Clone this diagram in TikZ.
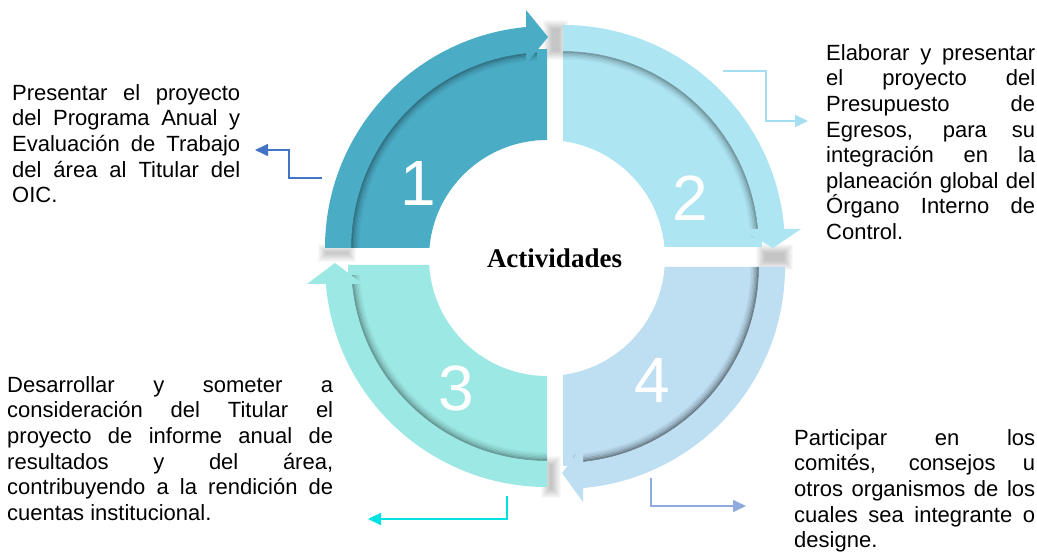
\documentclass[tikz,border=0pt]{standalone}
\usepackage{fontspec}
\setmainfont{Liberation Sans}
\newfontfamily\serifb{Liberation Serif}
\usetikzlibrary{arrows.meta,calc}
\definecolor{q1}{RGB}{75,172,198}
\definecolor{q2}{RGB}{174,229,243}
\definecolor{q3}{RGB}{156,232,228}
\definecolor{q4}{RGB}{190,222,242}
\definecolor{c1}{RGB}{68,114,196}
\definecolor{c2}{RGB}{165,222,240}
\definecolor{c3}{RGB}{0,226,226}
\definecolor{c4}{RGB}{143,170,220}
\tikzset{
  txt/.style={anchor=north west, inner sep=0pt, align=left, font=\fontsize{22}{25.6}\selectfont},
  num/.style={text=white, inner sep=0pt, font=\fontsize{64}{64}\selectfont},
  conn/.style={line width=1.6pt, -{Triangle[length=13pt,width=12pt]}},
  shad/.style={line width=1.6pt, black},
}
\newcommand\jline[2]{\makebox[#1][s]{#2}}
\newcommand\sshadow[4]{\foreach \ii in {0,1,...,9}{\fill[black,opacity=0.022] (#1+\ii,#2+\ii) rectangle (#3-\ii,#4-\ii);}}
\newcommand\arcshadow[4]{% centre, start, end, opacity scale
  \foreach \rr/\oo in {195.2/0.30,193.8/0.22,192.4/0.15,191/0.10,189.6/0.06,188.2/0.03}
    \draw[shad,opacity=\oo*#4] ($(#1)+(#2:\rr)$) arc[start angle=#2,end angle=#3,radius=\rr];}
\begin{document}
\begin{tikzpicture}[x=1pt,y=1pt]
\useasboundingbox (0,0) rectangle (1037,552);
\fill[white] (0,0) rectangle (1037,552);

% soft drop shadows
\sshadow{756}{282}{793}{308}
\sshadow{543}{492}{568}{532}
\sshadow{541}{54}{561}{96}
\sshadow{318}{290}{356}{308}

% common centre of the white hole
\coordinate (O) at (547,294);

% Quadrant 1
\coordinate (C1) at (547,304);
\fill[q1] ($(O)+(175.1:118)$) arc[start angle=175.1,end angle=90,radius=118] -- ($(C1)+(90:199)$) arc[start angle=90,end angle=180,radius=199] -- cycle;
\arcshadow{C1}{180}{93}{1}
\fill[q1] ($(C1)+(180:196)$) arc[start angle=180,end angle=95.5,radius=196] -- ($(C1)+(95.5:222)$) arc[start angle=95.5,end angle=180,radius=222] -- cycle;
\fill[q1] ($(C1)+(-21,184)$) -- ($(C1)+(-21,238)$) -- ($(C1)+(1,211)$) -- cycle;

% Quadrant 2
\coordinate (C2) at (563,305);
\fill[q2] ($(O)+(82.2:118)$) arc[start angle=82.2,end angle=5.35,radius=118] -- ($(C2)+(0:199)$) arc[start angle=0,end angle=90,radius=199] -- cycle;
\arcshadow{C2}{90}{3}{1}
\fill[q2] ($(C2)+(90:196)$) arc[start angle=90,end angle=4.7,radius=196] -- ($(C2)+(4.7:222)$) arc[start angle=4.7,end angle=90,radius=222] -- cycle;
\fill[q2] ($(C2)+(178,18)$) -- ($(C2)+(238,18)$) -- ($(C2)+(210,-1)$) -- cycle;

% Quadrant 3
\coordinate (C3) at (547,287);
\fill[q3] ($(O)+(183.4:118)$) arc[start angle=183.4,end angle=270,radius=118] -- ($(C3)+(270:199)$) arc[start angle=270,end angle=180,radius=199] -- cycle;
\arcshadow{C3}{270}{183}{1}
\fill[q3] ($(C3)+(270:196)$) arc[start angle=270,end angle=184.9,radius=196] -- ($(C3)+(184.9:222)$) arc[start angle=184.9,end angle=270,radius=222] -- cycle;
\fill[q3] ($(C3)+(-240,-19)$) -- ($(C3)+(-184,-19)$) -- ($(C3)+(-212,2)$) -- cycle;

% Quadrant 4
\coordinate (C4) at (563,285);
\fill[q4] ($(O)+(-4.37:118)$) arc[start angle=-4.37,end angle=-82.2,radius=118] -- ($(C4)+(-90:199)$) arc[start angle=-90,end angle=0,radius=199] -- cycle;
\arcshadow{C4}{0}{-87}{1.3}
\fill[q4] ($(C4)+(0:196)$) arc[start angle=0,end angle=-84.8,radius=196] -- ($(C4)+(-84.8:222)$) arc[start angle=-84.8,end angle=0,radius=222] -- cycle;
\fill[q4] ($(C4)+(20,-179)$) -- ($(C4)+(20,-235)$) -- ($(C4)+(-1,-206)$) -- cycle;

% numbers and centre title
\node[num] (n1) at (418,369) {1};
\node[num] (n2) at (690,354) {2};
\node[num] (n3) at (456,164) {3};
\node[num] (n4) at (652,172) {4};
\node[font=\serifb\bfseries\fontsize{27}{27}\selectfont, anchor=base, inner sep=0pt] (act) at (554.5,284) {Actividades};

% texts
\node[txt] (t1) at (12,467.75) {\jline{228pt}{Presentar el proyecto}\\ \jline{228pt}{del Programa Anual y}\\ \jline{228pt}{Evaluación de Trabajo}\\ \jline{228pt}{del área al Titular del}\\ OIC.};
\node[txt] (t2) at (826,507.75) {\jline{209pt}{Elaborar y presentar}\\ \jline{209pt}{el proyecto del}\\ \jline{209pt}{Presupuesto de}\\ \jline{209pt}{Egresos, para su}\\ \jline{209pt}{integración en la}\\ \jline{209pt}{planeación global del}\\ \jline{209pt}{Órgano Interno de}\\ Control.};
\node[txt] (t3) at (7,175.75) {\jline{326pt}{Desarrollar y someter a}\\ \jline{326pt}{consideración del Titular el}\\ \jline{326pt}{proyecto de informe anual de}\\ \jline{326pt}{resultados y del área,}\\ \jline{326pt}{contribuyendo a la rendición de}\\ cuentas institucional.};
\node[txt] (t4) at (794,122.75) {\jline{241pt}{Participar en los}\\ \jline{241pt}{comités, consejos u}\\ \jline{241pt}{otros organismos de los}\\ \jline{241pt}{cuales sea integrante o}\\ designe.};

% connectors
\coordinate (s1) at (322,374); \coordinate (e1) at (255,402);
\draw[conn,c1] (s1) -- ++(-33,0) |- (e1);
\coordinate (s2) at (723,481); \coordinate (e2) at (808,431);
\draw[conn,c2] (s2) -- ++(43,0) |- (e2);
\coordinate (s3) at (507,56); \coordinate (e3) at (368,33);
\draw[conn,c3,line width=2.2pt] (s3) |- (e3);
\coordinate (s4) at (651,74); \coordinate (e4) at (746,46);
\draw[conn,c4] (s4) |- (e4);
\end{tikzpicture}
\end{document}
